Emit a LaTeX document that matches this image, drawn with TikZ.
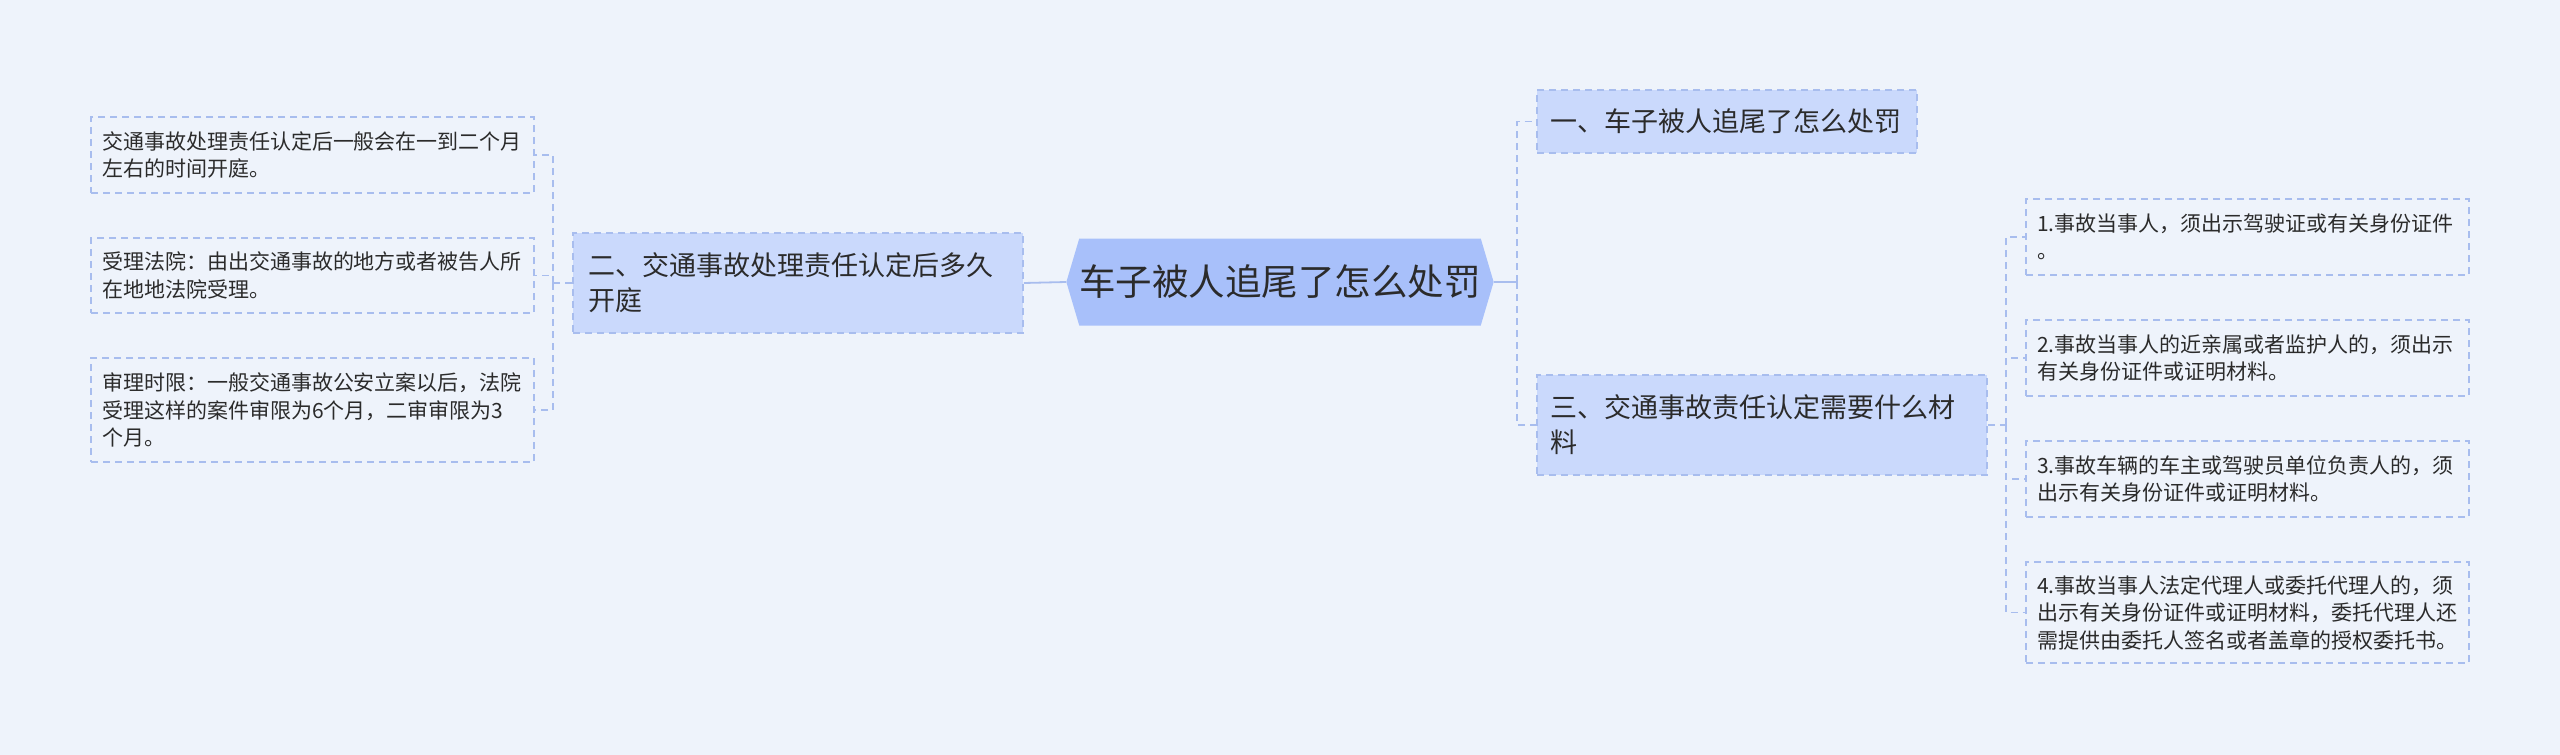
\documentclass[tikz,border=0pt]{standalone}
\usepackage{fontspec}
\setmainfont{Noto Sans CJK SC}
\usepackage{tikz}
\usetikzlibrary{shapes.symbols}
\definecolor{bgcol}{HTML}{EEF3FB}
\definecolor{rootcol}{HTML}{A8C0FA}
\definecolor{branchcol}{HTML}{CAD9FC}
\definecolor{linkcol}{HTML}{A8BDEE}
\definecolor{txtcol}{HTML}{2B2B2B}

\begin{document}
\begin{tikzpicture}[x=1pt, y=-1pt,
  rootnode/.style={signal, signal to=west and east, signal pointer angle=147, fill=rootcol,
    minimum width=409pt, minimum height=87pt, inner sep=0pt, text=txtcol, font=\fontsize{36.5}{44}\selectfont},
  branchnode/.style={draw=linkcol, fill=branchcol, dash pattern=on 7pt off 5pt, line width=1.6pt,
    align=left, inner xsep=13pt, inner ysep=0pt, text=txtcol, font=\fontsize{27}{35}\selectfont},
  leafnode/.style={draw=linkcol, dash pattern=on 7pt off 5pt, line width=1.6pt, text width=421pt,
    align=left, inner xsep=11pt, inner ysep=0pt, text=txtcol, font=\fontsize{21}{27.5}\selectfont},
  link/.style={linkcol, line width=1.8pt},
  dlink/.style={link, dash pattern=on 7pt off 5pt}]
  \fill[bgcol] (0,0) rectangle (2560,755);
  \useasboundingbox (0,0) rectangle (2560,755);

  \node[rootnode] (root) at (1280,282) {车子被人追尾了怎么处罚};

  \node[branchnode, text width=420pt, inner xsep=15pt, minimum height=100pt] (b2) at (798,283)
    {二、交通事故处理责任认定后多久\\开庭};
  \node[branchnode, text width=354pt, minimum height=63pt] (b1) at (1727,121.5)
    {一、车子被人追尾了怎么处罚};
  \node[branchnode, text width=424pt, minimum height=100pt] (b3) at (1762,425)
    {三、交通事故责任认定需要什么材\\料};

  \node[leafnode, minimum height=76pt] (l1) at (312.5,155)
    {交通事故处理责任认定后一般会在一到二个月\\左右的时间开庭。};
  \node[leafnode, minimum height=75pt] (l2) at (312.5,275.5)
    {受理法院：由出交通事故的地方或者被告人所\\在地地法院受理。};
  \node[leafnode, minimum height=104pt] (l3) at (312.5,410)
    {审理时限：一般交通事故公安立案以后，法院\\受理这样的案件审限为6个月，二审审限为3\\个月。};

  \node[leafnode, minimum height=76pt] (r1) at (2247.5,237)
    {1.事故当事人，须出示驾驶证或有关身份证件\\。};
  \node[leafnode, minimum height=76pt] (r2) at (2247.5,358)
    {2.事故当事人的近亲属或者监护人的，须出示\\有关身份证件或证明材料。};
  \node[leafnode, minimum height=76pt] (r3) at (2247.5,479)
    {3.事故车辆的车主或驾驶员单位负责人的，须\\出示有关身份证件或证明材料。};
  \node[leafnode, minimum height=101pt] (r4) at (2247.5,612.5)
    {4.事故当事人法定代理人或委托代理人的，须\\出示有关身份证件或证明材料，委托代理人还\\需提供由委托人签名或者盖章的授权委托书。};

  \coordinate (jl) at (553,283);
  \coordinate (jr) at (1517,282);
  \coordinate (jr3) at (2006,425);

  \draw[link] (root.west) -- (b2.east);
  \draw[dlink] (b2.west) -- (jl);
  \draw[dlink] (jl) |- (l1.east);
  \draw[dlink] (jl) |- (l2.east);
  \draw[dlink] (jl) |- (l3.east);

  \draw[link] (root.east) -- (jr);
  \draw[dlink] (jr) |- (b1.west);
  \draw[dlink] (jr) |- (b3.west);

  \draw[dlink] (b3.east) -- (jr3);
  \draw[dlink] (jr3) |- (r1.west);
  \draw[dlink] (jr3) |- (r2.west);
  \draw[dlink] (jr3) |- (r3.west);
  \draw[dlink] (jr3) |- (r4.west);
\end{tikzpicture}
\end{document}
